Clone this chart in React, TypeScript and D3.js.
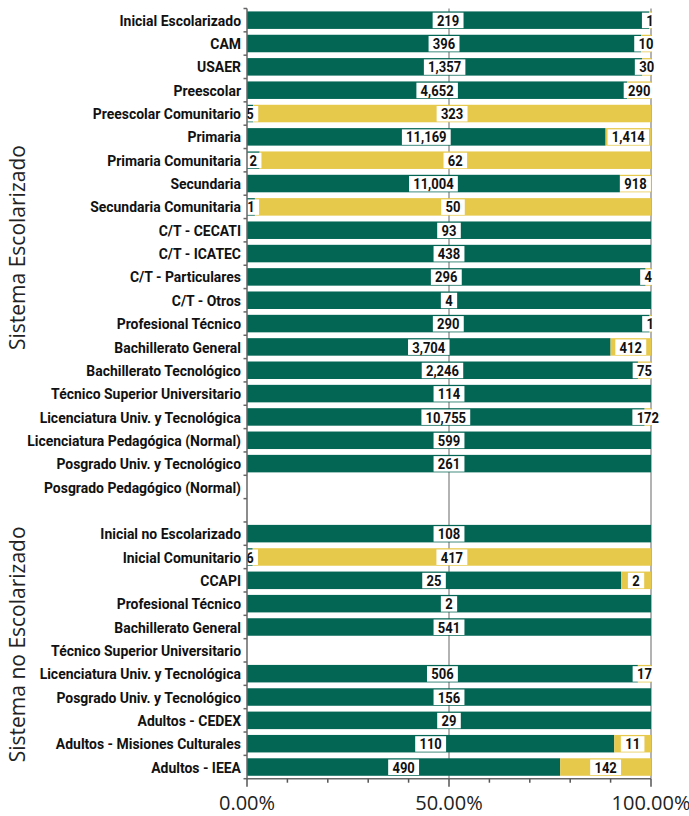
import React from "react";
import * as d3 from "d3";

const categories = [
  "Inicial Escolarizado",
  "CAM",
  "USAER",
  "Preescolar",
  "Preescolar Comunitario",
  "Primaria",
  "Primaria Comunitaria",
  "Secundaria",
  "Secundaria Comunitaria",
  "C/T - CECATI",
  "C/T - ICATEC",
  "C/T - Particulares",
  "C/T - Otros",
  "Profesional Técnico",
  "Bachillerato General",
  "Bachillerato Tecnológico",
  "Técnico Superior Universitario",
  "Licenciatura Univ. y Tecnológica",
  "Licenciatura Pedagógica (Normal)",
  "Posgrado Univ. y Tecnológico",
  "Posgrado Pedagógico (Normal)",
  "",
  "Inicial no Escolarizado",
  "Inicial Comunitario",
  "CCAPI",
  "Profesional Técnico",
  "Bachillerato General",
  "Técnico Superior Universitario",
  "Licenciatura Univ. y Tecnológica",
  "Posgrado Univ. y Tecnológico",
  "Adultos - CEDEX",
  "Adultos - Misiones Culturales",
  "Adultos - IEEA",
];

const seriesGreen = [
  219, 396, 1357, 4652, 5, 11169, 2, 11004, 1, 93, 438, 296, 4, 290, 3704, 2246,
  114, 10755, 599, 261, 0, 0, 108, 6, 25, 2, 541, 0, 506, 156, 29, 110, 490,
];

const seriesYellow = [
  1, 10, 30, 290, 323, 1414, 62, 918, 50, 0, 0, 4, 0, 1, 412, 75,
  0, 172, 0, 0, 0, 0, 0, 417, 2, 0, 0, 0, 17, 0, 0, 11, 142,
];

const groupLabels = ["Sistema Escolarizado", "Sistema no Escolarizado"];
const groupRanges = [
  [0, 20],
  [22, 32],
];
const majorTicks = [0, 0.5, 1];
const minorTicks = [0, 0.1, 0.2, 0.3, 0.4, 0.5, 0.6, 0.7, 0.8, 0.9, 1];

const GREEN = "#036654";
const YELLOW = "#E6C84B";
const FONT_BOLD = "Roboto, 'Liberation Sans', sans-serif";
const FONT_LIGHT = "'Open Sans', 'Lato', sans-serif";
const SX_VAL = 0.84;
const SX_CAT = 0.9;

function textWidth(s: string) {
  let w = 0;
  for (const c of s) w += c === "," ? 3.3 : 7.3;
  return w;
}

export default function App() {
  const W = 689;
  const H = 816;
  const left = 247;
  const right = 651;
  const top = 8.5;
  const bottom = 778.7;

  const x = d3.scaleLinear().domain([0, 1]).range([left, right]);
  const keys = categories.map((_, i) => String(i));
  const y = d3
    .scaleBand<string>()
    .domain(keys)
    .range([top, bottom])
    .paddingInner(0.25)
    .paddingOuter(0.125);
  const step = y.step();

  const rows = categories.map((c, i) => ({
    key: String(i),
    name: c,
    green: seriesGreen[i],
    yellow: seriesYellow[i],
  }));
  const stack = d3
    .stack<any>()
    .keys(["green", "yellow"])
    .offset(d3.stackOffsetExpand);
  const stacked = stack(rows);
  const colors: Record<string, string> = { green: GREEN, yellow: YELLOW };
  const fmt = d3.format(",");

  const boundaries = d3.range(categories.length + 1).map((k) => top + k * step);

  return (
    <svg
      width={W}
      height={H}
      style={{ position: "absolute", left: 0, top: 0, background: "#fff" }}
    >
      {/* gridlines */}
      {[0.5, 1].map((t) => (
        <line
          key={"g" + t}
          x1={x(t)}
          x2={x(t)}
          y1={top}
          y2={bottom}
          stroke="#9a9a9a"
          strokeWidth={1.5}
        />
      ))}
      {/* bars */}
      {stacked.map((layer) =>
        layer.map((d, i) => {
          const v = rows[i][layer.key as "green" | "yellow"];
          if (!v || isNaN(d[0]) || isNaN(d[1])) return null;
          return (
            <rect
              key={layer.key + i}
              x={x(d[0])}
              y={y(rows[i].key)}
              width={x(d[1]) - x(d[0])}
              height={y.bandwidth()}
              fill={colors[layer.key]}
            />
          );
        })
      )}
      {/* value labels */}
      {stacked.map((layer) =>
        layer.map((d, i) => {
          const v = rows[i][layer.key as "green" | "yellow"];
          if (!v || isNaN(d[0]) || isNaN(d[1])) return null;
          const s = fmt(v);
          const tw = textWidth(s);
          const cx = (x(d[0]) + x(d[1])) / 2;
          const cy = (y(rows[i].key) as number) + y.bandwidth() / 2;
          return (
            <g key={"l" + layer.key + i}>
              <rect
                x={cx - tw / 2 - 4.5}
                y={cy - 7.5}
                width={tw + 9}
                height={15.5}
                fill="#fff"
              />
              <text
                transform={`translate(${cx},${cy}) scale(${SX_VAL},1)`}
                dy="0.36em"
                textAnchor="middle"
                fontFamily={FONT_BOLD}
                fontWeight="bold"
                fontSize={15.5}
                fill="#111"
              >
                {s}
              </text>
            </g>
          );
        })
      )}
      {/* left axis */}
      <line x1={left} x2={left} y1={top} y2={bottom} stroke="#666" strokeWidth={1.5} />
      {boundaries.map((b, k) => (
        <line key={"t" + k} x1={left - 3.5} x2={left} y1={b} y2={b} stroke="#666" strokeWidth={1.5} />
      ))}
      {rows.map((r) => (
        <text
          key={"c" + r.key}
          transform={`translate(241,${(y(r.key) as number) + y.bandwidth() / 2}) scale(${SX_CAT},1)`}
          dy="0.36em"
          textAnchor="end"
          fontFamily={FONT_BOLD}
          fontWeight="bold"
          fontSize={15.5}
          fill="#111"
        >
          {r.name}
        </text>
      ))}
      {/* bottom axis */}
      <line x1={left} x2={right} y1={bottom} y2={bottom} stroke="#666" strokeWidth={1.5} />
      {minorTicks.map((t) => (
        <line
          key={"m" + t}
          x1={x(t)}
          x2={x(t)}
          y1={bottom}
          y2={bottom + (majorTicks.includes(t) ? 8 : 4)}
          stroke="#555"
          strokeWidth={1.5}
        />
      ))}
      {majorTicks.map((t) => (
        <text
          key={"mt" + t}
          x={x(t)}
          y={810}
          textAnchor="middle"
          fontFamily={FONT_LIGHT}
          fontSize={20}
          fill="#222"
        >
          {d3.format(".2%")(t)}
        </text>
      ))}
      {/* group labels */}
      {groupLabels.map((g, i) => {
        const [a, b] = groupRanges[i];
        const cy = ((y(String(a)) as number) + (y(String(b)) as number) + y.bandwidth()) / 2 - 6;
        return (
          <text
            key={"gl" + i}
            transform={`translate(25,${cy}) rotate(-90)`}
            textAnchor="middle"
            fontFamily={FONT_LIGHT}
            fontSize={21}
            fill="#222"
          >
            {g}
          </text>
        );
      })}
    </svg>
  );
}
